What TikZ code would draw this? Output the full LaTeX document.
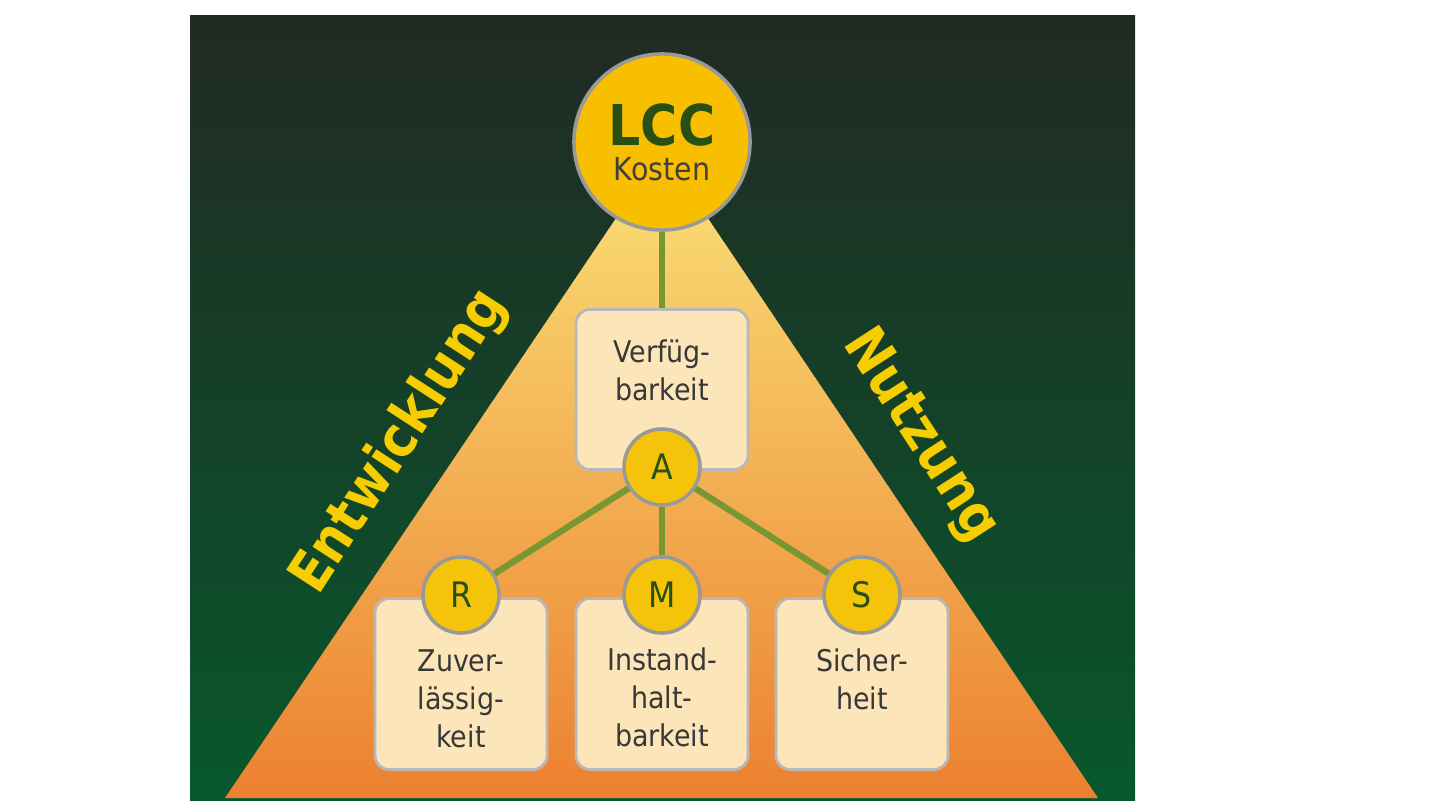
\documentclass[tikz,border=0pt]{standalone}
\usepackage{fontspec}
\setmainfont{DejaVu Sans Condensed}
\begin{document}
\begin{tikzpicture}[x=0.01cm,y=-0.01cm,
  circ/.style={circle,draw=black!40,line width=1pt,fill={rgb,255:red,245;green,195;blue,10},minimum size=0.76cm,inner sep=0pt,text={rgb,255:red,40;green,80;blue,20},font=\fontsize{10}{12}\selectfont},
  box/.style={draw=black!28,line width=0.8pt,rounded corners=4pt,fill={rgb,255:red,252;green,230;blue,185},minimum width=1.72cm},
  lbl/.style={align=center,font=\fontsize{8.5}{10.8}\selectfont,text=black!78},
  link/.style={draw={rgb,255:red,120;green,150;blue,50},line width=1.8pt},
  side/.style={font=\bfseries\fontsize{16}{19}\selectfont,text={rgb,255:red,245;green,205;blue,0}}]
\useasboundingbox (0,0) rectangle (1440,800);
\fill[white] (0,0) rectangle (1440,800);
\shade[top color={rgb,255:red,33;green,42;blue,36},bottom color={rgb,255:red,8;green,88;blue,44}] (190,15) rectangle (1135,800);
\shade[top color={rgb,255:red,250;green,225;blue,120},bottom color={rgb,255:red,236;green,128;blue,48}] (662,150) -- (1098,798) -- (225,798) -- cycle;
\node[box,minimum height=1.6cm,anchor=north] (V) at (662,308) {};
\node[box,minimum height=1.71cm,anchor=north] (Zb) at (461,597) {};
\node[box,minimum height=1.71cm,anchor=north] (Ib) at (662,597) {};
\node[box,minimum height=1.71cm,anchor=north] (Sb) at (862,597) {};
\node[lbl] (Vt) at (662,370) {Verfüg-\\barkeit};
\node[lbl] (Zt) at (461,699) {Zuver-\\lässig-\\keit};
\node[lbl] (It) at (662,697) {Instand-\\halt-\\barkeit};
\node[lbl] (St) at (862,679) {Sicher-\\heit};
\node[circ,minimum size=1.76cm,fill={rgb,255:red,248;green,190;blue,0},align=center] (L) at (662,142) {{\bfseries\fontsize{16}{18}\selectfont LCC}\\[-2pt]{\fontsize{9}{10}\selectfont\color{black!75}Kosten}};
\node[circ] (A) at (662,467) {A};
\node[circ] (R) at (461,595) {R};
\node[circ] (M) at (662,595) {M};
\node[circ] (S) at (862,595) {S};
\draw[link] (L) -- (V);
\draw[link] (A) -- (R); \draw[link] (A) -- (M); \draw[link] (A) -- (S);
\node[side,rotate=57] (E) at (400,442) {Entwicklung};
\node[side,rotate=-57] (N) at (920,436) {Nutzung};
\end{tikzpicture}
\end{document}
